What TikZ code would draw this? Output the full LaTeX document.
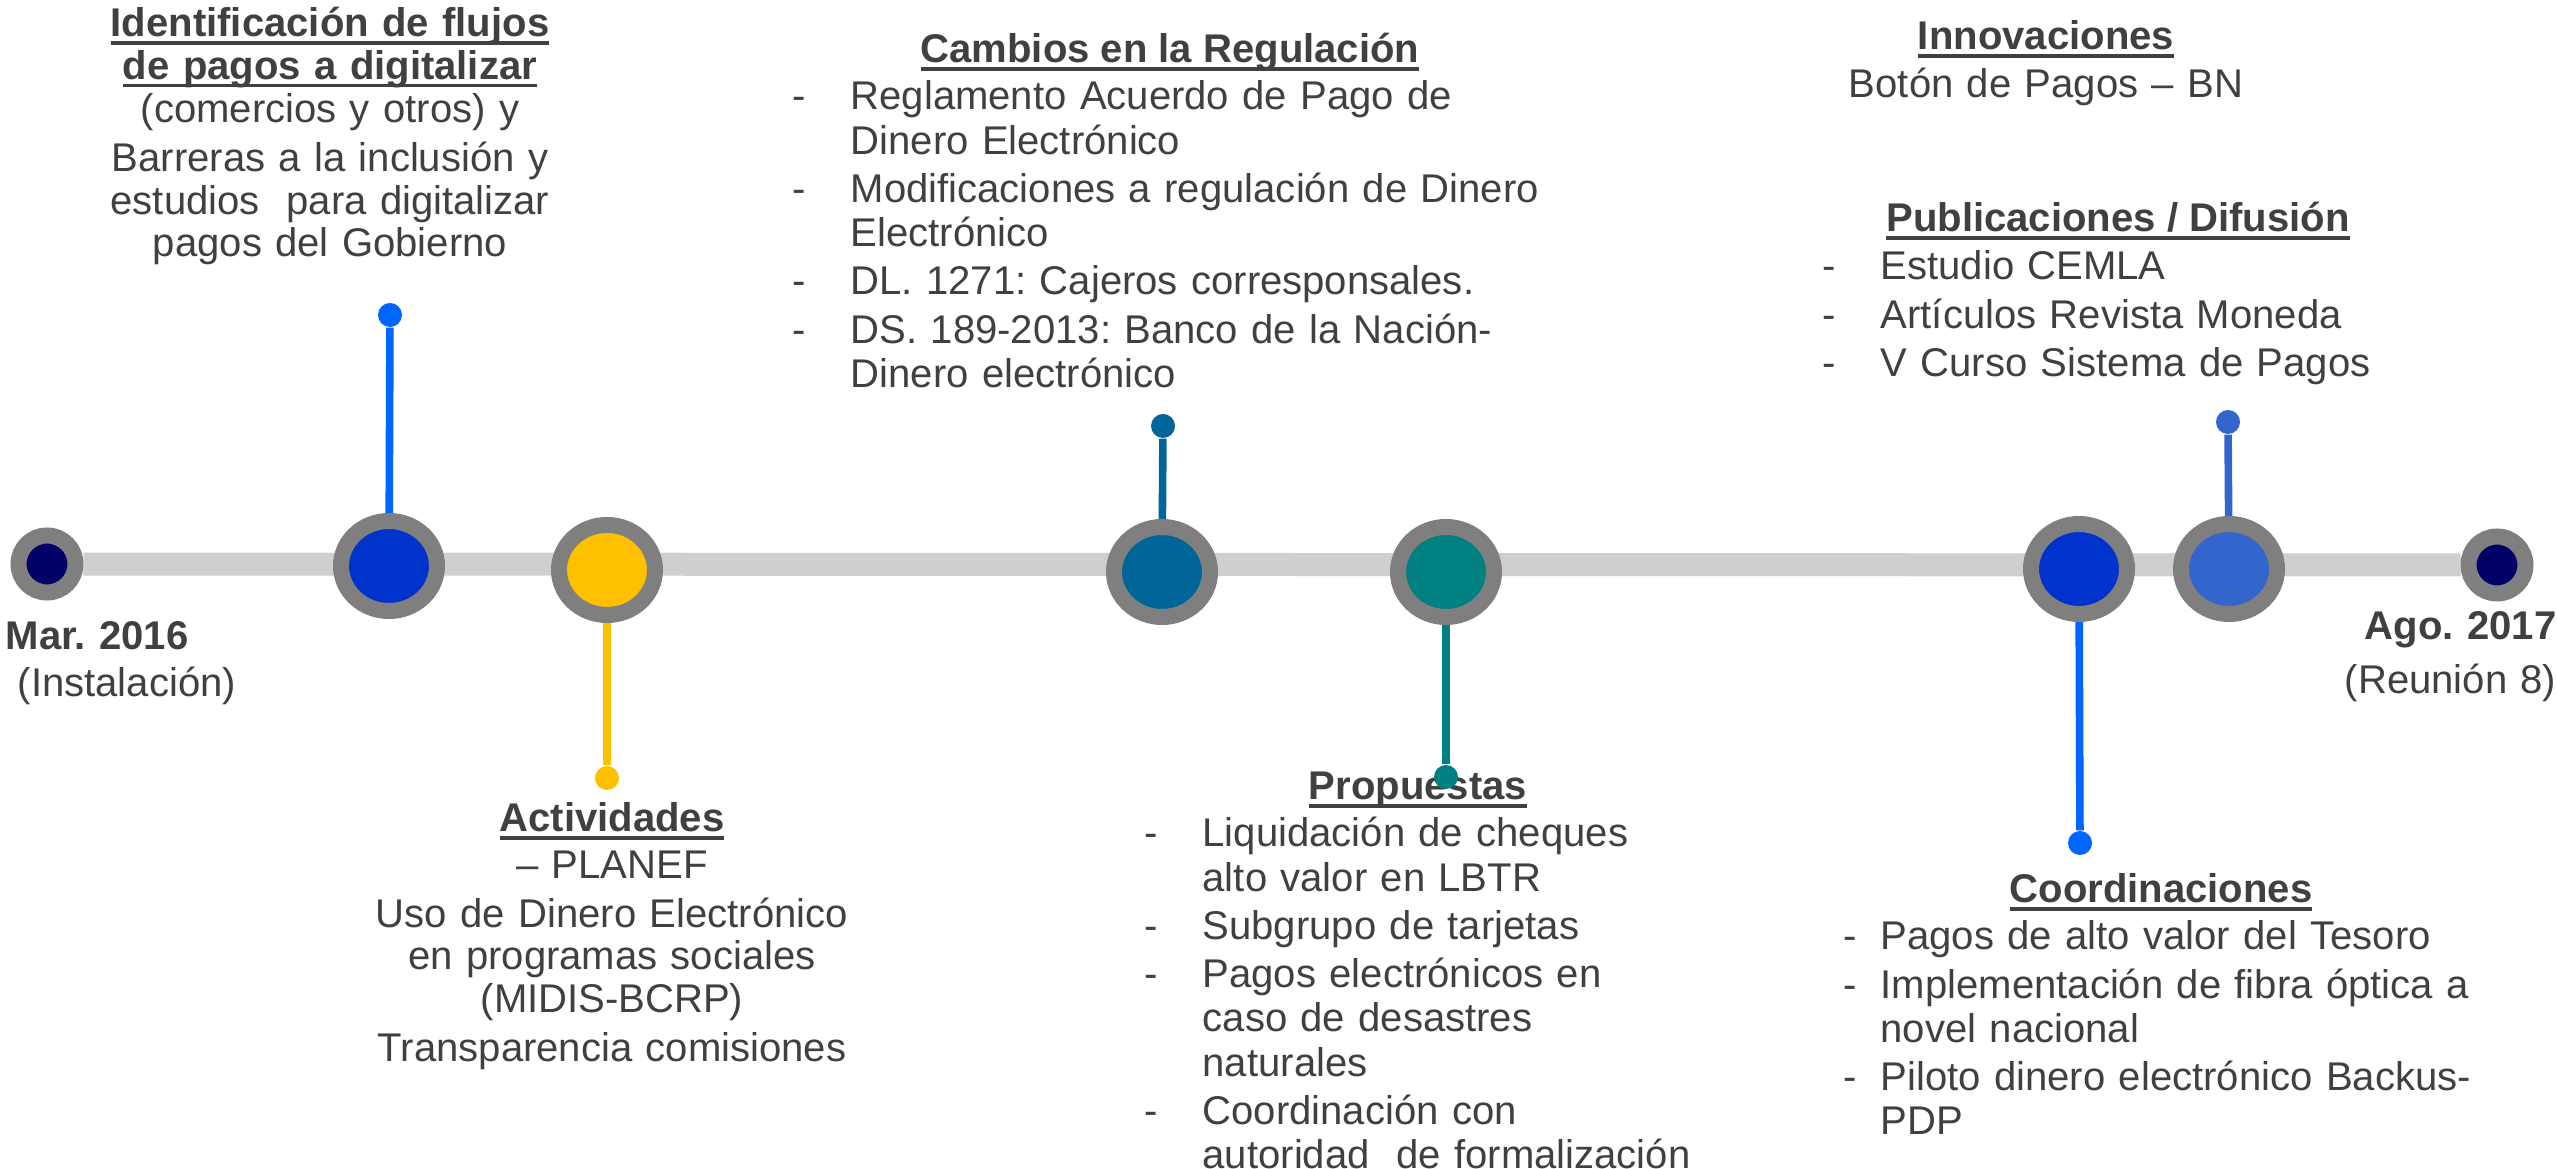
\documentclass[tikz,border=0pt]{standalone}
\usepackage{fontspec}
\setmainfont{Liberation Sans}
\usepackage{tikz}
\usetikzlibrary{positioning,shapes.geometric,backgrounds}
\definecolor{gristexto}{RGB}{64,64,64}
\definecolor{anillo}{RGB}{127,127,127}
\definecolor{barragris}{RGB}{208,206,206}
\definecolor{azulnoche}{RGB}{0,0,102}
\definecolor{azulrey}{RGB}{0,51,204}
\definecolor{azulclaro}{RGB}{0,102,255}
\definecolor{amarillo}{RGB}{255,192,0}
\definecolor{petroleo}{RGB}{0,102,153}
\definecolor{verdeazul}{RGB}{0,128,128}
\definecolor{azulmedio}{RGB}{51,102,204}
\frenchspacing

\newsavebox{\cajasubr}
\newcommand{\subr}[1]{\leavevmode\sbox{\cajasubr}{#1}%
  \rlap{\rule[-2.2pt]{\wd\cajasubr}{1pt}}\usebox{\cajasubr}}
\newlength{\anchoguion}
\newcommand{\guion}{\makebox[\anchoguion][l]{-}}
\newcommand{\sigue}{\hspace*{\anchoguion}}

\begin{document}
\begin{tikzpicture}[x=0.1mm, y=-0.1mm,
  hito/.style={ellipse, draw=anillo, line width=1.6mm, minimum width=9.6mm,
    minimum height=9mm, inner sep=0pt},
  extremo/.style={circle, draw=anillo, fill=azulnoche, line width=1.6mm,
    minimum size=5.7mm, inner sep=0pt},
  punto/.style={circle, minimum size=2.4mm, inner sep=0pt},
  tallo/.style={line width=0.76mm},
  texto/.style={text=gristexto, inner sep=0pt,
    font=\fontsize{11.4pt}{12.1pt}\selectfont},
  bloque/.style={texto, align=center, text width=6cm, anchor=base},
  titulo/.style={texto, font=\fontsize{11.4pt}{12.1pt}\selectfont\bfseries,
    anchor=base},
  lista/.style={texto, align=left, text width=8cm, anchor=base west,
    font=\fontsize{11.4pt}{12.6pt}\selectfont,
    execute at begin node={\setlength{\anchoguion}{#1}}},
  lista/.default=5.8mm,
]
  \useasboundingbox (0,0) rectangle (2557,1169);
  % Hitos de la línea de tiempo
  \node[extremo] (inicio) at (47,564) {};
  \node[hito, fill=azulrey] (identificacion) at (389,566) {};
  \node[hito, fill=amarillo] (actividades) at (607,570) {};
  \node[hito, fill=petroleo] (regulacion) at (1162,572) {};
  \node[hito, fill=verdeazul] (propuestas) at (1446,572) {};
  \node[hito, fill=azulrey] (coordinaciones) at (2079,569) {};
  \node[hito, fill=azulmedio] (publicaciones) at (2229,569) {};
  \node[extremo] (fin) at (2497,565) {};
  % Fechas
  \node[texto, align=left, text width=3cm, anchor=base west] (marzo) at (5,650)
    {\textbf{Mar. 2016}\\[1.2pt] \hspace*{1.2mm}(Instalación)};
  \node[texto, align=right, text width=3cm, anchor=base east] (agosto) at (2557,640)
    {\textbf{Ago. 2017}\\[3.2pt] (Reunión 8)};
  % Textos de cada hito
  \node[bloque] (t-identificacion) at (330,37)
    {\textbf{\subr{Identificación de flujos}}\\
     \textbf{\subr{de pagos a digitalizar}}\\
     (comercios y otros) y\\[2.1pt]
     Barreras a la inclusión y\\
     estudios\ \ para digitalizar\\
     pagos del Gobierno};
  \node[bloque] (t-actividades) at (612,832)
    {\textbf{\subr{Actividades}}\\[1pt]
     – PLANEF\\[1.85pt]
     Uso de Dinero Electrónico\\
     en programas sociales\\
     (MIDIS-BCRP)\\[1.85pt]
     Transparencia comisiones};
  \node[titulo] (t-regulacion) at (1170,63) {\subr{Cambios en la Regulación}};
  \node[lista] (l-regulacion) at (792,110)
    {\guion Reglamento Acuerdo de Pago de\\
     \sigue Dinero Electrónico\\[1.1pt]
     \guion Modificaciones a regulación de Dinero\\
     \sigue Electrónico\\[1.1pt]
     \guion DL. 1271: Cajeros corresponsales.\\[1.1pt]
     \guion DS. 189-2013: Banco de la Nación-\\
     \sigue Dinero electrónico};
  \node[titulo] (t-propuestas) at (1418,800) {\subr{Propuestas}};
  \node[lista] (l-propuestas) at (1144,847)
    {\guion Liquidación de cheques\\
     \sigue alto valor en LBTR\\[1.1pt]
     \guion Subgrupo de tarjetas\\[1.1pt]
     \guion Pagos electrónicos en\\
     \sigue caso de desastres\\
     \sigue naturales\\[1.1pt]
     \guion Coordinación con\\
     \sigue autoridad\ \ de formalización};
  \node[bloque] (t-innovaciones) at (2046,50)
    {\textbf{\subr{Innovaciones}}\\[1.55pt]
     Botón de Pagos – BN};
  \node[titulo] (t-publicaciones) at (2118,232) {\subr{Publicaciones / Difusión}};
  \node[lista] (l-publicaciones) at (1822,280)
    {\guion Estudio CEMLA\\[1.1pt]
     \guion Artículos Revista Moneda\\[1.1pt]
     \guion V Curso Sistema de Pagos};
  \node[titulo] (t-coordinaciones) at (2161,903) {\subr{Coordinaciones}};
  \node[lista=3.7mm] (l-coordinaciones) at (1843,950)
    {\guion Pagos de alto valor del Tesoro\\[1.1pt]
     \guion Implementación de fibra óptica a\\
     \sigue novel nacional\\[1.1pt]
     \guion Piloto dinero electrónico Backus-\\
     \sigue PDP};
  % Puntos al final de cada tallo
  \node[punto, fill=azulclaro] (p-identificacion) at (390,315) {};
  \node[punto, fill=amarillo] (p-actividades) at (607,778) {};
  \node[punto, fill=petroleo] (p-regulacion) at (1163,426) {};
  \node[punto, fill=verdeazul] (p-propuestas) at (1446,777) {};
  \node[punto, fill=azulclaro] (p-coordinaciones) at (2080,843) {};
  \node[punto, fill=azulmedio] (p-publicaciones) at (2228,422) {};
  % Barra y tallos detrás de los hitos
  \begin{scope}[on background layer]
    \draw[line width=2.3mm, barragris] (inicio) -- (fin);
    \draw[tallo, azulclaro] (p-identificacion) -- (identificacion);
    \draw[tallo, amarillo] (p-actividades) -- (actividades);
    \draw[tallo, petroleo] (p-regulacion) -- (regulacion);
    \draw[tallo, verdeazul] (p-propuestas) -- (propuestas);
    \draw[tallo, azulclaro] (p-coordinaciones) -- (coordinaciones);
    \draw[tallo, azulmedio] (p-publicaciones) -- (publicaciones);
  \end{scope}
\end{tikzpicture}
\end{document}
